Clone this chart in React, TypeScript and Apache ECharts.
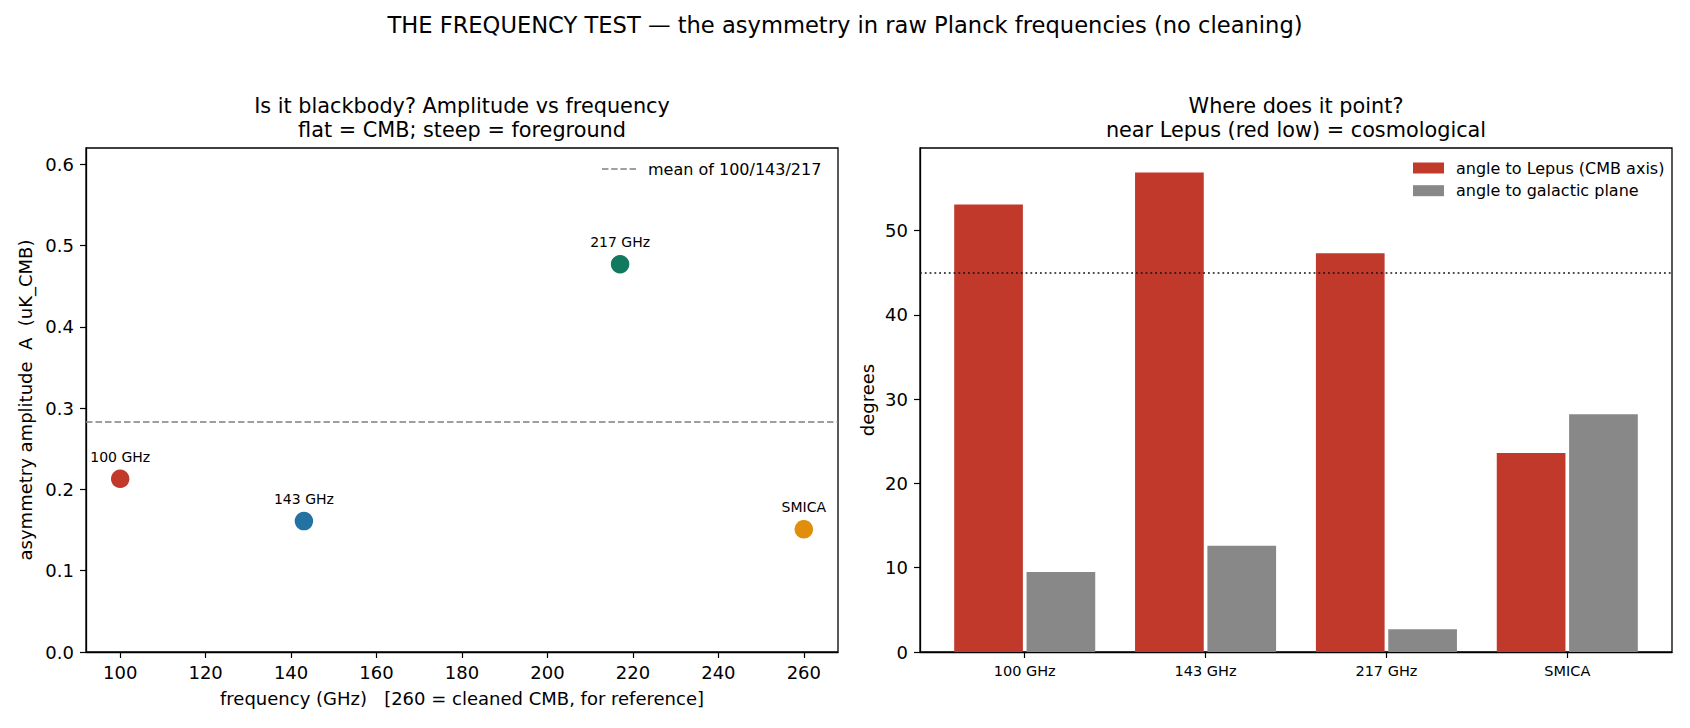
import { useEffect, useRef } from 'react';
import * as echarts from 'echarts';

// left panel: amplitude per frequency
const freqs = [100, 143, 217, 260];
const freqNames = ['100 GHz', '143 GHz', '217 GHz', 'SMICA'];
const amplitudes = [0.213, 0.161, 0.477, 0.151];
const dotColors = ['#c0392b', '#2471a3', '#117a5e', '#e08e0b'];
const meanAmplitude = 0.283;
const freqTicks = [100, 120, 140, 160, 180, 200, 220, 240, 260];
const ampTicks = [0, 0.1, 0.2, 0.3, 0.4, 0.5, 0.6];

// right panel: angles
const channels = ['100 GHz', '143 GHz', '217 GHz', 'SMICA'];
const lepusAngle = [53.1, 56.9, 47.3, 23.6];
const galacticAngle = [9.5, 12.6, 2.7, 28.2];
const degreeTicks = [0, 10, 20, 30, 40, 50];
const lepusLimit = 45;

const FONT = 'DejaVu Sans';

// four short dashes, like the matplotlib legend handle
const DASH_ICON = 'path://M0,0H6.5V1.5H0Z M9.3,0H15.8V1.5H9.3Z M18.6,0H25.1V1.5H18.6Z M27.9,0H34.4V1.5H27.9Z';

const axisBase = {
  axisLine: { show: true, onZero: false, lineStyle: { color: '#000', width: 1.3 } },
  axisTick: { show: true, length: 6, lineStyle: { color: '#000', width: 1.2 } },
  splitLine: { show: false },
  nameTextStyle: { color: '#000', fontSize: 18, fontFamily: FONT },
};

export default function App() {
  const ref = useRef<HTMLDivElement>(null);

  useEffect(() => {
    if (!ref.current) return;
    document.body.style.margin = '0';
    const chart = echarts.init(ref.current, null, { renderer: 'svg' });

    const gridBox = { show: true, borderColor: '#000', borderWidth: 1.3, backgroundColor: 'transparent' };

    chart.setOption({
      animation: false,
      textStyle: { fontFamily: FONT, color: '#000' },
      title: [
        {
          text: 'THE FREQUENCY TEST — the asymmetry in raw Planck frequencies (no cleaning)',
          left: 845,
          top: 13,
          textAlign: 'center',
          padding: 0,
          textStyle: { fontSize: 22.6, fontWeight: 'normal', color: '#000', fontFamily: FONT },
        },
        {
          text: 'Is it blackbody? Amplitude vs frequency\nflat = CMB; steep = foreground',
          left: 462,
          top: 94,
          textAlign: 'center',
          padding: 0,
          textStyle: { fontSize: 20.8, lineHeight: 24, fontWeight: 'normal', color: '#000', fontFamily: FONT },
        },
        {
          text: 'Where does it point?\nnear Lepus (red low) = cosmological',
          left: 1296,
          top: 94,
          textAlign: 'center',
          padding: 0,
          textStyle: { fontSize: 20.8, lineHeight: 24, fontWeight: 'normal', color: '#000', fontFamily: FONT },
        },
      ],
      legend: [
        {
          data: [{ name: 'mean of 100/143/217', icon: DASH_ICON }],
          left: 602,
          top: 161,
          padding: 0,
          itemWidth: 34,
          itemHeight: 1.6,
          textStyle: { fontSize: 16, color: '#000', fontFamily: FONT, padding: [0, 0, 0, 7] },
        },
        {
          data: ['angle to Lepus (CMB axis)', 'angle to galactic plane'],
          left: 1413,
          top: 160,
          padding: 0,
          orient: 'vertical',
          icon: 'rect',
          itemWidth: 31,
          itemHeight: 11,
          itemGap: 6.7,
          textStyle: { fontSize: 16, color: '#000', fontFamily: FONT, padding: [0, 0, 0, 7] },
        },
      ],
      grid: [
        { left: 86, top: 148, width: 752, height: 504, ...gridBox },
        { left: 920, top: 148, width: 752, height: 504, ...gridBox },
      ],
      xAxis: [
        {
          ...axisBase,
          type: 'value',
          gridIndex: 0,
          min: 92,
          max: 268,
          name: 'frequency (GHz)   [260 = cleaned CMB, for reference]',
          nameLocation: 'middle',
          nameGap: 37,
          axisTick: { ...axisBase.axisTick, customValues: freqTicks },
          axisLabel: { customValues: freqTicks, fontSize: 18, color: '#000', margin: 11, fontFamily: FONT },
        },
        {
          ...axisBase,
          type: 'value',
          gridIndex: 1,
          min: -0.579,
          max: 3.579,
          axisTick: { ...axisBase.axisTick, customValues: [0, 1, 2, 3] },
          axisLabel: {
            customValues: [0, 1, 2, 3],
            formatter: (v: number) => channels[Math.round(v)] ?? '',
            fontSize: 14.5,
            color: '#000',
            margin: 11,
            fontFamily: FONT,
          },
        },
      ],
      yAxis: [
        {
          ...axisBase,
          type: 'value',
          gridIndex: 0,
          min: 0,
          max: 0.62,
          name: 'asymmetry amplitude  A  (uK_CMB)',
          nameLocation: 'middle',
          nameGap: 52,
          axisTick: { ...axisBase.axisTick, customValues: ampTicks },
          axisLabel: {
            customValues: ampTicks,
            formatter: (v: number) => v.toFixed(1),
            fontSize: 18,
            color: '#000',
            margin: 12,
            fontFamily: FONT,
          },
        },
        {
          ...axisBase,
          type: 'value',
          gridIndex: 1,
          min: 0,
          max: 59.8,
          name: 'degrees',
          nameLocation: 'middle',
          nameGap: 44,
          axisTick: { ...axisBase.axisTick, customValues: degreeTicks },
          axisLabel: { customValues: degreeTicks, fontSize: 18, color: '#000', margin: 12, fontFamily: FONT },
        },
      ],
      series: [
        {
          name: 'mean of 100/143/217',
          type: 'line',
          xAxisIndex: 0,
          yAxisIndex: 0,
          data: [
            [92, meanAmplitude],
            [268, meanAmplitude],
          ],
          symbol: 'none',
          silent: true,
          lineStyle: { color: '#808080', width: 1.5, type: [6.5, 3] },
          itemStyle: { color: '#808080' },
        },
        {
          name: 'frequencies',
          type: 'scatter',
          xAxisIndex: 0,
          yAxisIndex: 0,
          symbolSize: 18.5,
          data: freqs.map((f, i) => ({
            value: [f, amplitudes[i]],
            itemStyle: { color: dotColors[i], opacity: 1 },
            label: { formatter: freqNames[i] },
          })),
          itemStyle: { opacity: 1 },
          label: {
            show: true,
            position: 'top',
            distance: 6,
            fontSize: 14,
            color: '#000',
            opacity: 1,
            fontFamily: FONT,
          },
        },
        {
          name: 'angle to Lepus (CMB axis)',
          type: 'bar',
          xAxisIndex: 1,
          yAxisIndex: 1,
          barWidth: 68.7,
          barGap: '-100%',
          itemStyle: { color: '#c0392b' },
          data: lepusAngle.map((v, i) => [i - 0.2, v]),
          markLine: {
            silent: true,
            symbol: 'none',
            label: { show: false },
            lineStyle: { color: '#111', width: 1.5, type: [1.8, 3] },
            data: [{ yAxis: lepusLimit }],
          },
        },
        {
          name: 'angle to galactic plane',
          type: 'bar',
          xAxisIndex: 1,
          yAxisIndex: 1,
          barWidth: 68.7,
          barGap: '-100%',
          itemStyle: { color: '#888888' },
          data: galacticAngle.map((v, i) => [i + 0.2, v]),
        },
      ],
    });

    return () => chart.dispose();
  }, []);

  return <div ref={ref} style={{ width: 1690, height: 728 }} />;
}
